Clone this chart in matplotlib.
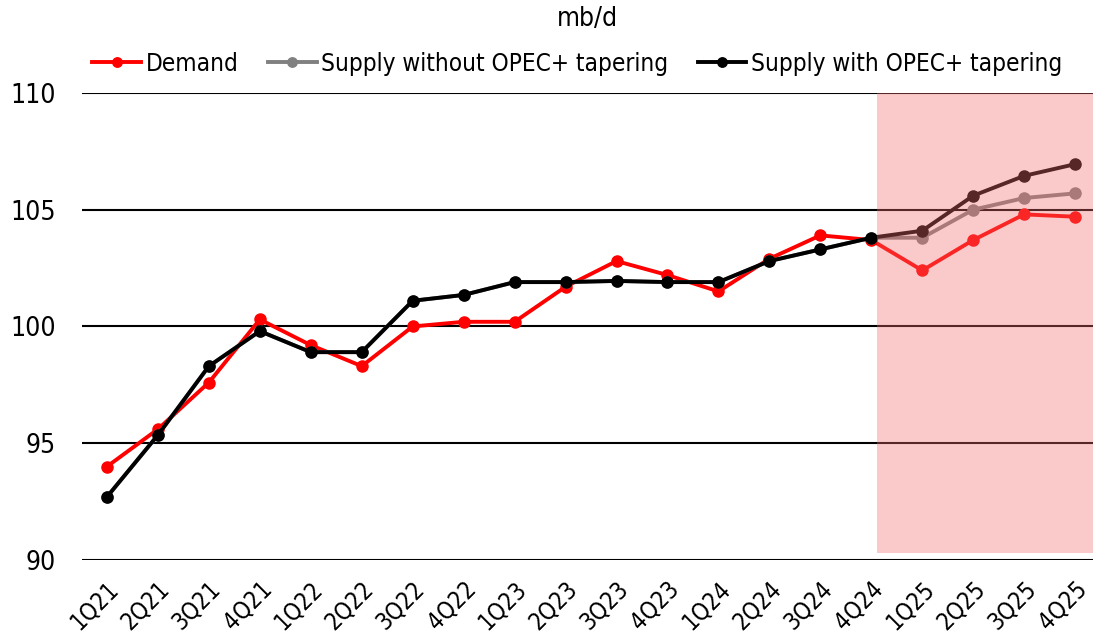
"""Oil demand vs supply, mb/d."""

import matplotlib
matplotlib.use('Agg')
from matplotlib import pyplot as plt
import numpy as np

plt.rcParams['font.family'] = ['DejaVu Sans']
plt.rcParams['font.stretch'] = 'condensed'

quarters = ['1Q21', '2Q21', '3Q21', '4Q21', '1Q22', '2Q22', '3Q22', '4Q22',
            '1Q23', '2Q23', '3Q23', '4Q23', '1Q24', '2Q24', '3Q24', '4Q24',
            '1Q25', '2Q25', '3Q25', '4Q25']
demand = [94.0, 95.6, 97.6, 100.3, 99.2, 98.3, 100.0, 100.2, 100.2, 101.7,
          102.8, 102.2, 101.5, 102.9, 103.9, 103.7, 102.4, 103.7, 104.8, 104.7]
supply_no_taper = [92.7, 95.35, 98.3, 99.8, 98.9, 98.9, 101.1, 101.35, 101.9, 101.9,
                   101.95, 101.9, 101.9, 102.8, 103.3, 103.8, 103.8, 105.0, 105.5, 105.7]
supply_taper = [92.7, 95.35, 98.3, 99.8, 98.9, 98.9, 101.1, 101.35, 101.9, 101.9,
                101.95, 101.9, 101.9, 102.8, 103.3, 103.8, 104.1, 105.6, 106.45, 106.95]

x = np.arange(len(quarters))

fig = plt.figure(figsize=(10.93, 6.41), dpi=100)
ax = fig.add_axes([0.075, 0.1264, 0.925, 0.7286])

lw = 2.8
ms = 8
ax.plot(x, demand, color='#ff0000', marker='o', lw=lw, ms=ms, label='Demand', zorder=3)
ax.plot(x, supply_no_taper, color='#808080', marker='o', lw=lw, ms=ms,
        label='Supply without OPEC+ tapering', zorder=4)
ax.plot(x, supply_taper, color='black', marker='o', lw=lw, ms=ms,
        label='Supply with OPEC+ tapering', zorder=5)

# forecast shading sits on top of the lines
ax.axvspan(15.12, 19.4, ymin=0.015, ymax=1.0, color='#f26a6a', alpha=0.36,
           lw=0, zorder=6)

for yv in [90, 95, 100, 105, 110]:
    ax.axhline(yv, color='black', lw=1.5, zorder=2)

ax.set_xlim(-0.49, 19.35)
ax.set_ylim(90, 110)
ax.set_yticks([90, 95, 100, 105, 110])
ax.set_xticks(x)
ax.set_xticklabels(quarters, rotation=45, ha='right', rotation_mode='anchor', fontsize=17)
ax.tick_params(axis='y', labelsize=19, length=0, pad=19)
ax.tick_params(axis='x', length=0, pad=12)
for s in ax.spines.values():
    s.set_visible(False)

fig.text(0.537, 0.99, 'mb/d', ha='center', va='top', fontsize=19)
ax.legend(loc='lower center', bbox_to_anchor=(0.49, 1.0), ncol=3, frameon=False,
          fontsize=17.5, handlelength=2.0, handletextpad=0.2, columnspacing=1.2,
          borderaxespad=0.3, markerscale=0.85)

plt.savefig('out.png', dpi=100)
